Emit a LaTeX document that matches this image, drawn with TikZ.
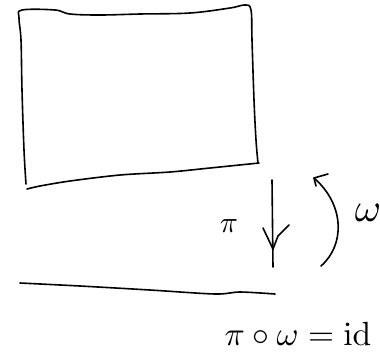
\documentclass[tikz,border=0pt]{standalone}
\usepackage{graphicx}
\usetikzlibrary{arrows.meta}
\begin{document}
\begin{tikzpicture}[x=1pt,y=-1pt,
  ink/.style={line width=1.6pt,line cap=round,line join=round,black},
  lbl/.style={inner sep=0pt,font=\normalsize}]
\useasboundingbox (0,0) rectangle (380,360);
% equation
\node[lbl] (eqlbl) at (298,334) {\scalebox{3.35}{$\pi\circ\omega=\mathrm{id}$}};
% labels
\node[lbl] (omlbl) at (368,213) {\scalebox{4}{$\omega$}};
\node[lbl] (pilbl) at (229,226) {\scalebox{3}{$\pi$}};
% rectangle (total space)
\draw[ink] plot[smooth,tension=0.6] coordinates {(26,184) (24,150) (22,90) (21,40) (19,18) (22,10) (55,10) (70,14) (100,15) (140,14) (190,13) (230,8) (245,5) (251,10) (252,40) (254,100) (256,140) (258,163)};
\draw[ink] plot[smooth,tension=0.5] coordinates {(27,189) (40,186) (70,181) (120,175) (170,172) (210,168) (259,163)};
% base
\draw[ink] plot[smooth,tension=0.5] coordinates {(20,283) (80,286) (150,290) (215,294) (240,292) (275,294)};
% pi arrow
\coordinate (pitop) at (272,180);
\coordinate (pibot) at (273,267);
\draw[ink] (pitop) -- (pibot);
\draw[ink] (263,228) -- (273,249) -- (278,236) -- (289,225);
% omega arc
\coordinate (ombot) at (321,266);
\coordinate (omtop) at (314,178);
\draw[ink] (ombot) .. controls (345,245) and (345,205) .. (omtop);
\draw[ink] (328,174) -- (314,178) -- (316,186);
\end{tikzpicture}
\end{document}
